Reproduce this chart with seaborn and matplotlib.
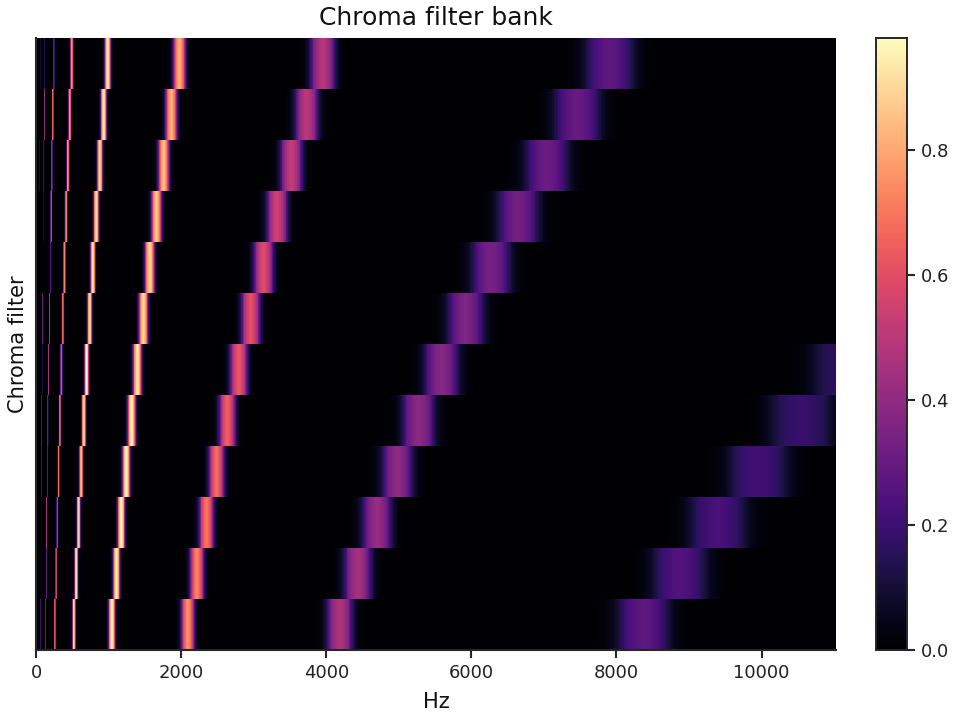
import numpy as np
import pandas as pd
import matplotlib
matplotlib.use("Agg")
import matplotlib.pyplot as plt
import seaborn as sns

# pitch classes, bottom row first, lowest octave in Hz (C1 .. B1)
pitches = ["C", "C#", "D", "D#", "E", "F", "F#", "G", "G#", "A", "A#", "B"]
base_hz = [32.7, 34.65, 36.71, 38.89, 41.2, 43.65, 46.25, 49.0, 51.91, 55.0, 58.27, 61.74]

# peak weight of each octave (1 to 9), one list per pitch class
peak_c = [0.0, 0.2, 0.3, 0.6, 0.9, 0.97, 0.76, 0.47, 0.28]
peak_cs = [0.0, 0.05, 0.28, 0.55, 0.93, 0.97, 0.73, 0.45, 0.25]
peak_d = [0.0, 0.05, 0.45, 0.5, 0.9, 0.97, 0.7, 0.42, 0.23]
peak_ds = [0.0, 0.2, 0.25, 0.68, 0.85, 0.97, 0.68, 0.4, 0.21]
peak_e = [0.0, 0.25, 0.3, 0.65, 0.92, 0.96, 0.65, 0.39, 0.19]
peak_f = [0.0, 0.1, 0.45, 0.6, 0.97, 0.95, 0.63, 0.38, 0.18]
peak_fs = [0.0, 0.3, 0.45, 0.65, 0.93, 0.92, 0.61, 0.36, 0.0]
peak_g = [0.0, 0.03, 0.25, 0.72, 0.93, 0.9, 0.59, 0.34, 0.0]
peak_gs = [0.0, 0.1, 0.55, 0.72, 0.93, 0.87, 0.55, 0.33, 0.0]
peak_a = [0.1, 0.2, 0.4, 0.75, 0.92, 0.85, 0.52, 0.31, 0.0]
peak_as = [0.0, 0.4, 0.65, 0.75, 0.95, 0.83, 0.5, 0.3, 0.0]
peak_b = [0.08, 0.12, 0.3, 0.75, 0.95, 0.82, 0.49, 0.28, 0.0]
peaks = [peak_c, peak_cs, peak_d, peak_ds, peak_e, peak_f,
         peak_fs, peak_g, peak_gs, peak_a, peak_as, peak_b]

band_shape = [1.0, 0.995, 0.98, 0.965, 0.94, 0.915, 0.89, 0.86, 0.825, 0.79,
              0.75, 0.68, 0.6, 0.51, 0.43, 0.36, 0.29, 0.235, 0.19, 0.155,
              0.125, 0.1, 0.08, 0.065, 0.05, 0.04, 0.03, 0.022, 0.015, 0.01, 0.006]

x_ticks = [0, 2000, 4000, 6000, 8000, 10000]
cbar_ticks = [0.0, 0.2, 0.4, 0.6, 0.8]

max_hz = 11025
n_cols = 800
hz_per_col = max_hz / n_cols
col_hz = (np.arange(n_cols) + 0.5) * hz_per_col

grid = np.zeros((len(pitches), n_cols))
for row, hz in enumerate(base_hz):
    for octave, peak in enumerate(peaks[row]):
        centre = hz * 2 ** octave
        steps = np.round(np.abs(col_hz - centre) / (centre * 0.056) / 0.05).astype(int)
        inside = steps < len(band_shape)
        values = np.zeros(n_cols)
        values[inside] = peak * np.array(band_shape)[steps[inside]]
        # thin low bands still need their peak in the nearest column
        nearest = np.argmin(np.abs(col_hz - centre))
        if np.abs(col_hz[nearest] - centre) < hz_per_col:
            values[nearest] = peak
        grid[row] = np.maximum(grid[row], values)

df = pd.DataFrame(grid[::-1], index=pitches[::-1], columns=col_hz)

sns.set_theme(style="ticks")
plt.rcParams["font.family"] = ["DejaVu Sans"]
plt.rcParams["text.color"] = "#111111"
plt.rcParams["axes.labelcolor"] = "#111111"
plt.rcParams["xtick.labelcolor"] = "#222222"
plt.rcParams["ytick.labelcolor"] = "#222222"

fig = plt.figure(figsize=(8, 6), dpi=120)
ax = fig.add_axes([36 / 960, 70 / 720, 800 / 960, 612 / 720])
cax = fig.add_axes([876 / 960, 70 / 720, 31 / 960, 612 / 720])

sns.heatmap(df, ax=ax, cbar_ax=cax, cmap="magma", vmin=0, vmax=0.98,
            xticklabels=False, yticklabels=False)

ax.set_xticks([t / hz_per_col for t in x_ticks], [str(t) for t in x_ticks])
ax.tick_params(axis="x", labelsize=10.8, length=5, rotation=0)
ax.set_yticks([])
ax.set_xlabel("Hz", fontsize=12.6, labelpad=6)
ax.set_ylabel("Chroma filter", fontsize=12.6, labelpad=5)
ax.set_title("Chroma filter bank", fontsize=15, pad=8)
ax.spines["left"].set_visible(True)
ax.spines["bottom"].set_visible(True)

cax.tick_params(labelsize=10.8, length=5)
cax.set_yticks(cbar_ticks)
for side in cax.spines.values():
    side.set_visible(True)
    side.set_linewidth(1)

fig.savefig("out.png", dpi=120)
